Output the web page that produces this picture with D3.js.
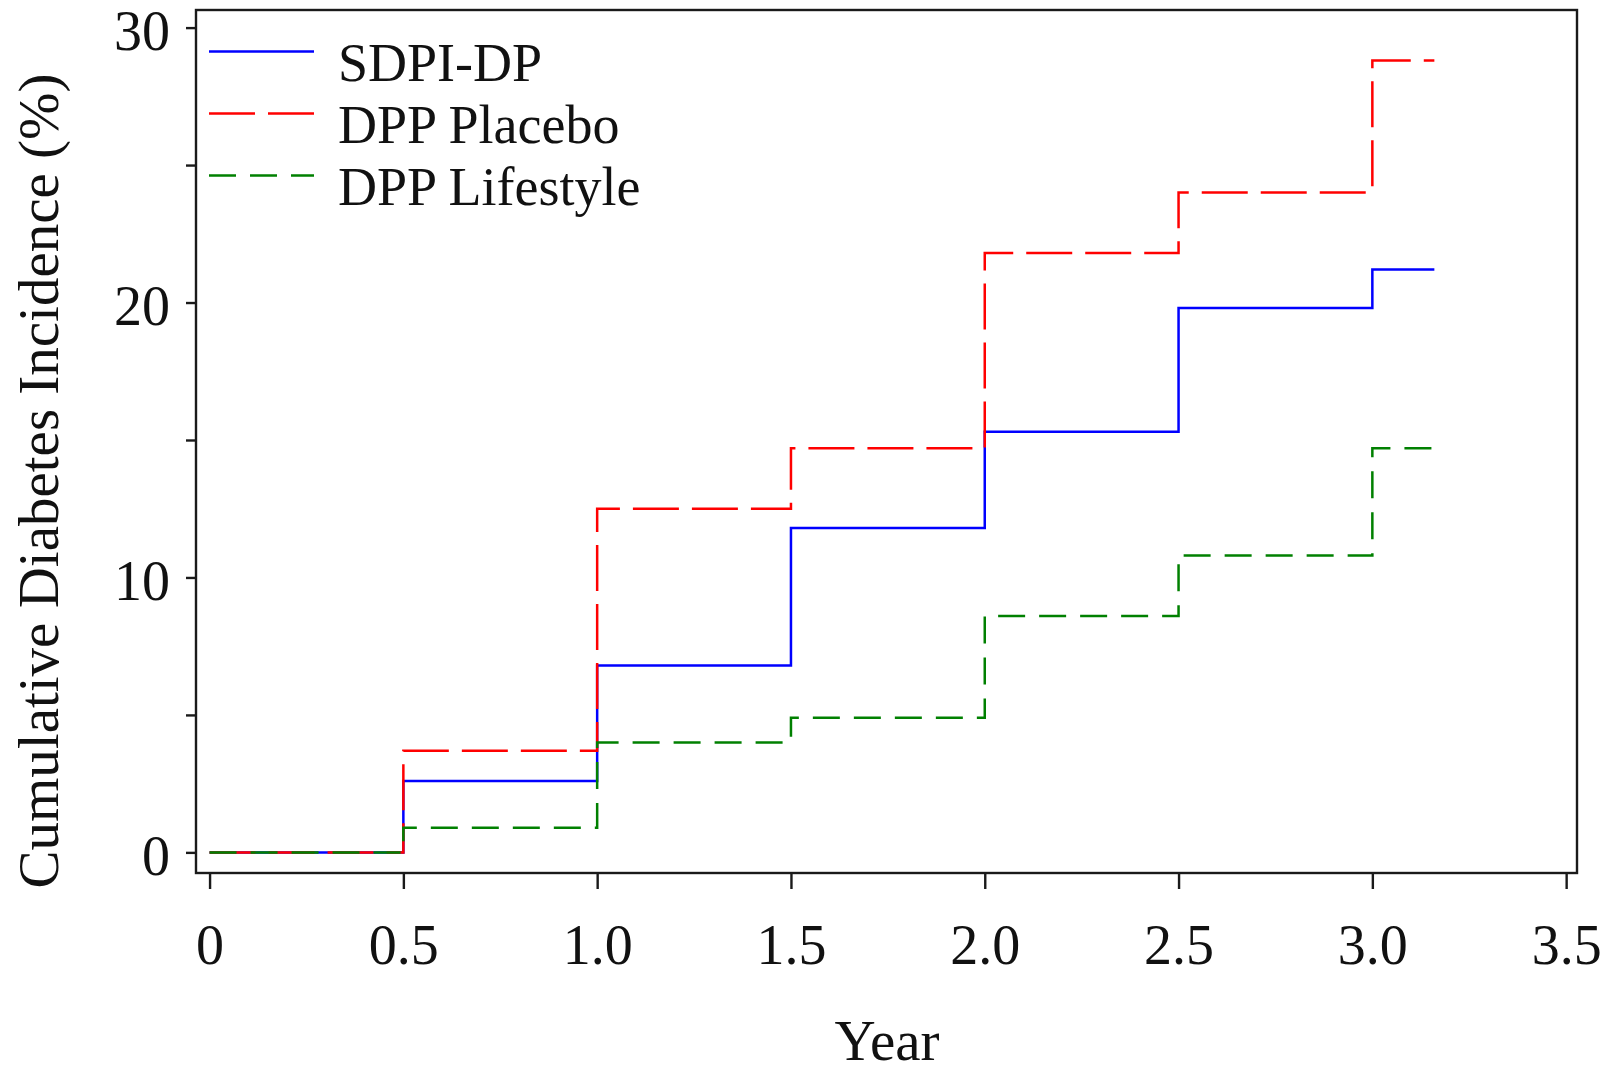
<!DOCTYPE html>
<html>
<head>
<meta charset="utf-8">
<script src="https://cdn.jsdelivr.net/npm/d3@7"></script>
<style>
  html, body { margin: 0; padding: 0; background: #fff; }
  svg { display: block; }
  text { font-family: "Liberation Serif", "Times New Roman", serif; fill: #111; }
</style>
</head>
<body>
<div id="chart"></div>
<script>
// step points (year) and cumulative incidence (%)
const years = [0, 0.5, 1.0, 1.5, 2.0, 2.5, 3.0, 3.16];
const sdpiDp = [0, 2.6, 6.8, 11.8, 15.3, 19.8, 21.2, 21.2];
const dppPlacebo = [0, 3.7, 12.5, 14.7, 21.8, 24.0, 28.8, 28.8];
const dppLifestyle = [0, 0.9, 4.0, 4.9, 8.6, 10.8, 14.7, 14.7];

const seriesNames = ["SDPI-DP", "DPP Placebo", "DPP Lifestyle"];
const xTicks = [0, 0.5, 1.0, 1.5, 2.0, 2.5, 3.0, 3.5];
const yTicks = [0, 5, 10, 15, 20, 25, 30];

const width = 1616, height = 1074;

const svg = d3.select("#chart").append("svg")
  .attr("width", width)
  .attr("height", height);

// plot frame
const frameL = 196, frameR = 1577, frameT = 10, frameB = 873;

const x = d3.scaleLinear().domain([-0.035, 3.528]).range([frameL, frameR]);
const y = d3.scaleLinear().domain([-0.75, 30.64]).range([frameB, frameT]);

const styles = [
  {color: "#0000ff", dash: null},
  {color: "#ff0000", dash: "46,13"},
  {color: "#008000", dash: "27,14"}
];

const series = [sdpiDp, dppPlacebo, dppLifestyle].map((vals, i) => ({
  name: seriesNames[i],
  values: years.map((yr, j) => ({year: yr, pct: vals[j]})),
  color: styles[i].color,
  dash: styles[i].dash
}));

const line = d3.line()
  .x(d => x(d.year))
  .y(d => y(d.pct))
  .curve(d3.curveStepAfter);

svg.append("g").selectAll("path").data(series).enter().append("path")
  .attr("d", d => line(d.values))
  .attr("fill", "none")
  .attr("stroke", d => d.color)
  .attr("stroke-width", 2.5)
  .attr("stroke-dasharray", d => d.dash);

// frame
svg.append("rect")
  .attr("x", frameL).attr("y", frameT)
  .attr("width", frameR - frameL).attr("height", frameB - frameT)
  .attr("fill", "none")
  .attr("stroke", "#1a1a1a")
  .attr("stroke-width", 2.4);

// x axis
const xAxis = svg.append("g")
  .attr("transform", `translate(0,${frameB})`)
  .call(d3.axisBottom(x).tickValues(xTicks).tickSize(16)
    .tickFormat(d => d === 0 ? "0" : d3.format(".1f")(d)));
xAxis.select(".domain").remove();
xAxis.selectAll(".tick line").attr("stroke", "#1a1a1a").attr("stroke-width", 2.4);
xAxis.selectAll(".tick text")
  .attr("y", 91).attr("dy", 0)
  .style("font-size", "56px")
  .style("font-family", "Liberation Serif")
  .attr("fill", "#111");

// y axis
const yAxis = svg.append("g")
  .attr("transform", `translate(${frameL},0)`)
  .call(d3.axisLeft(y).tickValues(yTicks).tickSize(10)
    .tickFormat(d => d % 10 === 0 ? d : ""));
yAxis.select(".domain").remove();
yAxis.selectAll(".tick line").attr("stroke", "#1a1a1a").attr("stroke-width", 2.4);
yAxis.selectAll(".tick text")
  .attr("x", -26).attr("dy", 0).attr("y", 22)
  .style("font-size", "56px")
  .style("font-family", "Liberation Serif")
  .attr("fill", "#111");

// axis titles
svg.append("text")
  .attr("x", 887).attr("y", 1060)
  .attr("text-anchor", "middle")
  .style("font-size", "57px")
  .text("Year");

svg.append("text")
  .attr("transform", "translate(58,481) rotate(-90)")
  .attr("text-anchor", "middle")
  .style("font-size", "57px")
  .text("Cumulative Diabetes Incidence (%)");

// legend
const legend = svg.append("g").selectAll("g").data(series).enter().append("g")
  .attr("transform", (d, i) => `translate(209,${51.5 + i * 62})`);

legend.append("line")
  .attr("x1", 0).attr("x2", 105)
  .attr("stroke", d => d.color)
  .attr("stroke-width", 2.5)
  .attr("stroke-dasharray", d => d.dash);

legend.append("text")
  .attr("x", 129).attr("y", 29)
  .style("font-size", "54px")
  .text(d => d.name);
</script>
</body>
</html>
